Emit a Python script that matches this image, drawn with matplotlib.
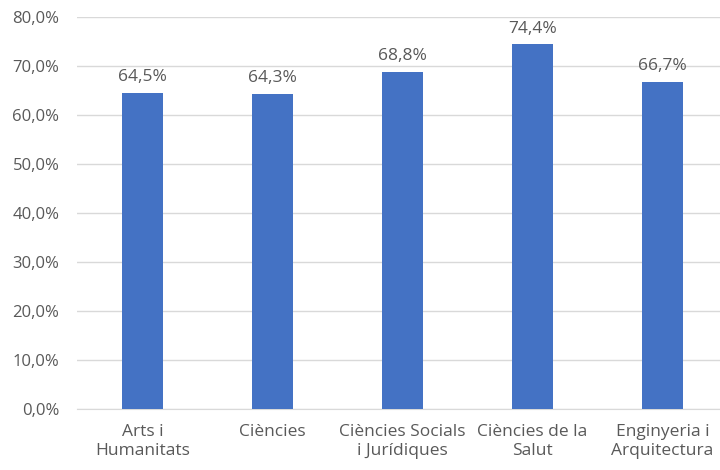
import matplotlib
matplotlib.use('Agg')
import matplotlib.pyplot as plt
from matplotlib.ticker import FuncFormatter

# --- Data ---
categories = ['Arts i\nHumanitats', 'Ciències', 'Ciències Socials\ni Jurídiques',
              'Ciències de la\nSalut', 'Enginyeria i\nArquitectura']
values = [64.5, 64.3, 68.8, 74.4, 66.7]
yticks = [0, 10, 20, 30, 40, 50, 60, 70, 80]

text_color = '#595959'
bar_color = '#4472C4'

plt.rcParams['font.family'] = ['Open Sans', 'DejaVu Sans']

fig = plt.figure(figsize=(7.2, 4.7), dpi=100)
# plot area runs a little past the right edge, as in the source image
ax = fig.add_axes([0.1076, 0.130, 0.903, 0.834])

x = range(len(categories))
bars = ax.bar(x, values, width=0.31, color=bar_color, zorder=3)

for b, v in zip(bars, values):
    ax.text(b.get_x() + b.get_width() / 2, v + 1.6, f'{v:.1f}%'.replace('.', ','),
            ha='center', va='bottom', fontsize=12.5, color=text_color)

ax.set_ylim(0, 80)
ax.set_xlim(-0.5, len(categories) - 0.5)
ax.set_yticks(yticks)
ax.yaxis.set_major_formatter(FuncFormatter(lambda v, p: f'{v:.1f}%'.replace('.', ',')))
ax.set_xticks(list(x))
ax.set_xticklabels(categories, linespacing=1.25)
ax.grid(axis='y', color='#d9d9d9', linewidth=1, zorder=0)
ax.tick_params(axis='both', length=0, colors=text_color)
ax.tick_params(axis='y', pad=13, labelsize=12)
ax.tick_params(axis='x', pad=11, labelsize=12.5)
for s in ['top', 'right', 'left']:
    ax.spines[s].set_visible(False)
ax.spines['bottom'].set_color('#d9d9d9')

fig.savefig('out.png', dpi=100)
